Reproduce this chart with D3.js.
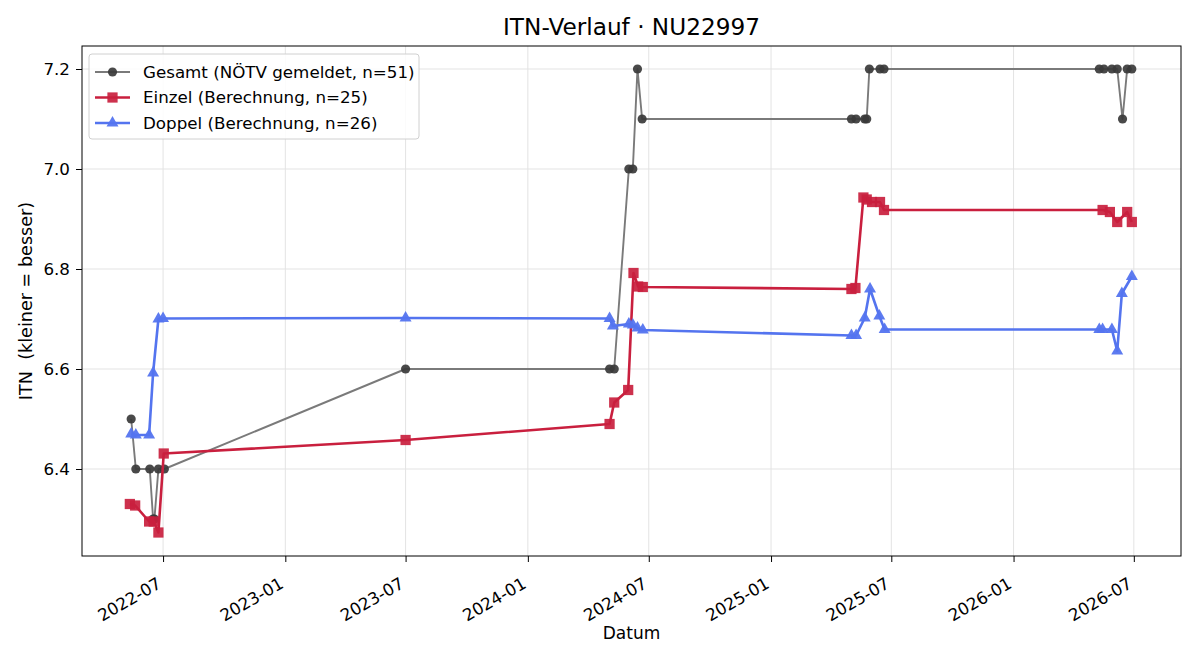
<!DOCTYPE html>
<html>
<head>
<meta charset="utf-8">
<script src="https://cdn.jsdelivr.net/npm/d3@7"></script>
<style>
  body { margin: 0; background: #fff; }
  svg text { font-family: "DejaVu Sans", sans-serif; fill: #000; }
</style>
</head>
<body>
<div id="chart"></div>
<script>
// Gesamt (gemeldet)
const gesamtDates = ["2022-05-14","2022-05-21","2022-06-11","2022-06-16","2022-06-18","2022-06-24","2022-07-03",
  "2023-07-01","2024-05-03","2024-05-10","2024-06-01","2024-06-07","2024-06-14","2024-06-21",
  "2025-05-02","2025-05-09","2025-05-22","2025-05-25","2025-05-29","2025-06-14","2025-06-20",
  "2026-05-10","2026-05-17","2026-05-29","2026-06-06","2026-06-14","2026-06-21","2026-06-28"];
const gesamtValues = [6.5,6.4,6.4,6.3,6.3,6.4,6.4, 6.6,6.6,6.6,7.0,7.0,7.2,7.1, 7.1,7.1,7.1,7.1,7.2,7.2,7.2, 7.2,7.2,7.2,7.2,7.1,7.2,7.2];

// Einzel (Berechnung)
const einzelDates = ["2022-05-12","2022-05-20","2022-06-10","2022-06-17","2022-06-24","2022-07-02",
  "2023-07-01","2024-05-03","2024-05-10","2024-05-31","2024-06-08","2024-06-15","2024-06-22",
  "2025-05-02","2025-05-08","2025-05-20","2025-05-25","2025-06-02","2025-06-14","2025-06-20",
  "2026-05-15","2026-05-26","2026-06-06","2026-06-21","2026-06-28"];
const einzelValues = [6.330,6.327,6.295,6.295,6.273,6.431, 6.458,6.490,6.533,6.558,6.792,6.765,6.764,
  6.760,6.762,6.943,6.939,6.934,6.934,6.918, 6.918,6.914,6.894,6.914,6.894];

// Doppel (Berechnung)
const doppelDates = ["2022-05-14","2022-05-21","2022-06-10","2022-06-16","2022-06-24","2022-07-01",
  "2023-07-01","2024-05-03","2024-05-08","2024-06-01","2024-06-07","2024-06-14","2024-06-22",
  "2025-05-02","2025-05-09","2025-05-22","2025-05-30","2025-06-13","2025-06-21",
  "2026-05-10","2026-05-15","2026-05-29","2026-06-06","2026-06-13","2026-06-28"];
const doppelValues = [6.470,6.468,6.468,6.592,6.700,6.701, 6.702,6.701,6.686,6.690,6.688,6.682,6.678,
  6.667,6.667,6.702,6.760,6.706,6.679, 6.679,6.679,6.679,6.636,6.751,6.785];

const yTicks = [6.4, 6.6, 6.8, 7.0, 7.2];
const xTicks = ["2022-07-01","2023-01-01","2023-07-01","2024-01-01","2024-07-01","2025-01-01","2025-07-01","2026-01-01","2026-07-01"];

const parse = d3.timeParse("%Y-%m-%d");
const toPoints = (dates, vals) => dates.map((d, i) => ({ date: parse(d), value: vals[i] }));

const series = [
  { name: "Gesamt (NÖTV gemeldet, n=51)", data: toPoints(gesamtDates, gesamtValues),
    line: "#7a7a7a", fill: "#3a3a3a", width: 1.9, shape: d3.symbolCircle, size: 66, opacity: 0.92 },
  { name: "Einzel (Berechnung, n=25)", data: toPoints(einzelDates, einzelValues),
    line: "#c91f3e", fill: "#c91f3e", width: 2.6, shape: d3.symbolSquare, size: 105, opacity: 0.92 },
  { name: "Doppel (Berechnung, n=26)", data: toPoints(doppelDates, doppelValues),
    line: "#5474ef", fill: "#5474ef", width: 2.6, shape: d3.symbolTriangle, size: 62, opacity: 0.95 }
];

const W = 1200, H = 660;
const margin = { top: 46, right: 19, bottom: 104, left: 82 };
const width = W - margin.left - margin.right;
const height = H - margin.top - margin.bottom;

const svg = d3.select("#chart").append("svg").attr("width", W).attr("height", H);
const g = svg.append("g").attr("transform", `translate(${margin.left},${margin.top})`);

const x = d3.scaleTime().domain([parse("2022-03-01"), parse("2026-09-10")]).range([0, width]);
const y = d3.scaleLinear().domain([6.226, 7.246]).range([height, 0]);

// grid
g.append("g").selectAll("line").data(xTicks).enter().append("line")
  .attr("x1", d => x(parse(d))).attr("x2", d => x(parse(d)))
  .attr("y1", 0).attr("y2", height)
  .attr("stroke", "#e3e3e3").attr("stroke-width", 1);
g.append("g").selectAll("line").data(yTicks).enter().append("line")
  .attr("x1", 0).attr("x2", width)
  .attr("y1", d => y(d)).attr("y2", d => y(d))
  .attr("stroke", "#e3e3e3").attr("stroke-width", 1);

// series
const lineGen = d3.line().x(d => x(d.date)).y(d => y(d.value));
series.forEach(s => {
  g.append("path").datum(s.data)
    .attr("d", lineGen)
    .attr("fill", "none")
    .attr("stroke", s.line)
    .attr("stroke-width", s.width)
    .attr("stroke-linejoin", "round");
  g.append("g").selectAll("path").data(s.data).enter().append("path")
    .attr("d", d3.symbol().type(s.shape).size(s.size))
    .attr("transform", d => `translate(${x(d.date)},${y(d.value)})`)
    .attr("fill", s.fill)
    .attr("fill-opacity", s.opacity);
});

// axes
const xAxis = g.append("g").attr("transform", `translate(0,${height})`)
  .call(d3.axisBottom(x).tickValues(xTicks.map(parse)).tickFormat(d3.timeFormat("%Y-%m")).tickSize(6));
xAxis.selectAll("text")
  .attr("font-size", "16.7px")
  .attr("y", 0).attr("dy", 0)
  .style("text-anchor", "end")
  .attr("transform", "translate(-1,31) rotate(-30)");

const yAxis = g.append("g")
  .call(d3.axisLeft(y).tickValues(yTicks).tickFormat(d3.format(".1f")).tickSize(6).tickPadding(6));
yAxis.selectAll("text").attr("font-size", "16.7px");

[xAxis, yAxis].forEach(a => {
  a.attr("font-family", null).attr("font-size", null);
  a.select(".domain").remove();
  a.selectAll(".tick line").attr("stroke", "#000");
});

g.append("rect").attr("width", width).attr("height", height)
  .attr("fill", "none").attr("stroke", "#000").attr("stroke-width", 1);

// titles
svg.append("text").attr("x", margin.left + width / 2).attr("y", 35)
  .attr("text-anchor", "middle").attr("font-size", "23.2px").text("ITN-Verlauf · NU22997");
svg.append("text").attr("x", margin.left + width / 2).attr("y", 639)
  .attr("text-anchor", "middle").attr("font-size", "17px").text("Datum");
svg.append("text").attr("transform", `translate(32,${margin.top + height / 2}) rotate(-90)`)
  .attr("text-anchor", "middle").attr("font-size", "17.6px")
  .style("white-space", "pre")
  .text("ITN  (kleiner = besser)");

// legend
const legend = g.append("g").attr("transform", "translate(7,8)");
legend.append("rect").attr("width", 330).attr("height", 85).attr("rx", 3)
  .attr("fill", "#fff").attr("fill-opacity", 0.85).attr("stroke", "#d0d0d0");
series.forEach((s, i) => {
  const ly = 18 + i * 25.5;
  legend.append("line").attr("x1", 6).attr("x2", 41).attr("y1", ly).attr("y2", ly)
    .attr("stroke", s.line).attr("stroke-width", s.width);
  legend.append("path").attr("d", d3.symbol().type(s.shape).size(s.size))
    .attr("transform", `translate(23.5,${ly})`).attr("fill", s.fill).attr("fill-opacity", s.opacity);
  legend.append("text").attr("x", 54).attr("y", ly).attr("dy", "0.35em")
    .attr("font-size", "16.7px").text(s.name);
});
</script>
</body>
</html>
